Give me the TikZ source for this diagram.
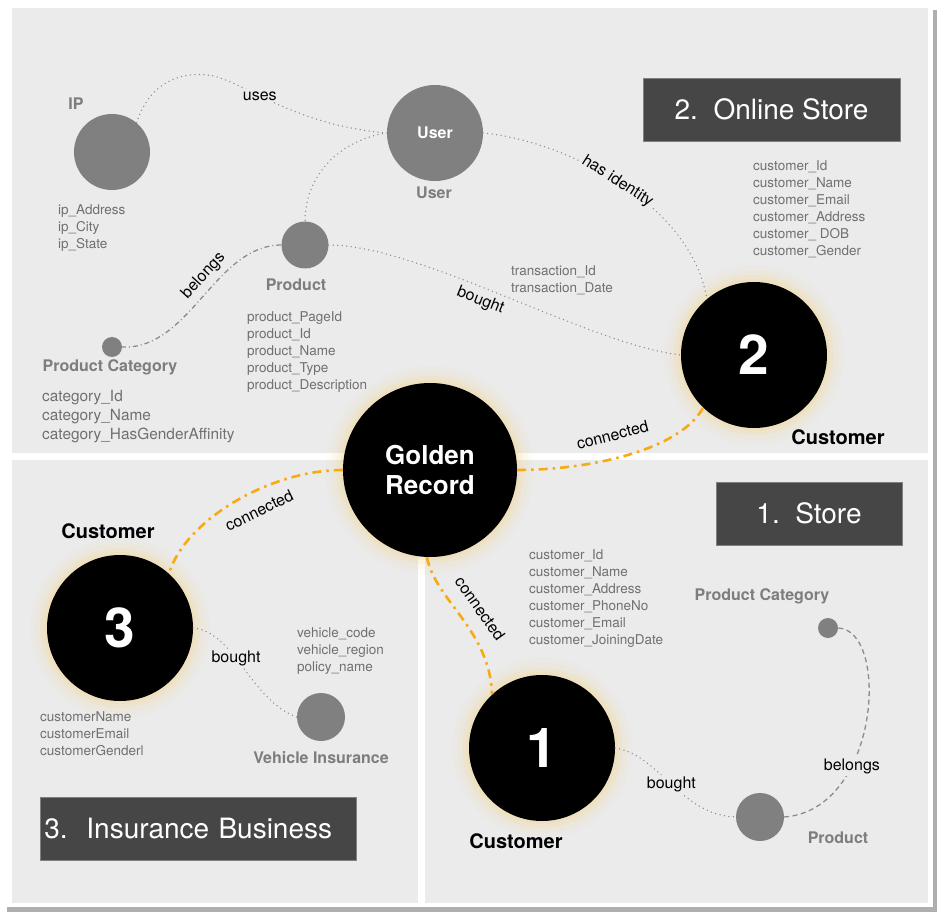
\documentclass[tikz,border=0pt]{standalone}
\usepackage{fontspec}
\setmainfont{TeX Gyre Heros}
\definecolor{panelbg}{RGB}{235,235,235}
\definecolor{shadowgray}{RGB}{175,175,175}
\definecolor{ballgray}{RGB}{128,128,128}
\definecolor{attrgray}{RGB}{112,112,112}
\definecolor{namegray}{RGB}{125,125,125}
\definecolor{dotgray}{RGB}{140,140,140}
\definecolor{boxgray}{RGB}{70,70,70}
\definecolor{linkorange}{RGB}{247,170,20}
\definecolor{glowc}{RGB}{250,210,120}
\tikzset{
  ball/.style={circle, fill=ballgray, inner sep=0pt},
  blackball/.style={circle, fill=black, inner sep=0pt, text=white, minimum size=146pt,
    font=\bfseries\fontsize{55}{55}\selectfont,
    preaction={draw=glowc, line width=34pt, draw opacity=0.05},
    preaction={draw=glowc, line width=24pt, draw opacity=0.08},
    preaction={draw=glowc, line width=14pt, draw opacity=0.12},
    preaction={draw=glowc, line width=6pt, draw opacity=0.18}},
  attr/.style={inner sep=0pt, anchor=north west, align=left, text=attrgray,
    font=\fontsize{13.5}{17}\selectfont},
  bigattr/.style={attr, font=\fontsize{15.4}{19.2}\selectfont},
  graylabel/.style={text=namegray, inner sep=0pt, font=\bfseries\fontsize{16}{16}\selectfont},
  custlabel/.style={text=black, inner sep=0pt, font=\bfseries\fontsize{20}{20}\selectfont},
  edgelbl/.style={text=black, inner sep=2pt, font=\fontsize{16}{16}\selectfont},
  onfill/.style={fill=panelbg},
  titlebox/.style={fill=boxgray, draw=gray, line width=0.8pt, text=white, minimum height=63pt,
    font=\fontsize{28}{28}\selectfont},
  dotlink/.style={draw=dotgray, line width=1.5pt, line cap=round, dash pattern=on 0pt off 4.5pt},
  dashdotlink/.style={draw=dotgray, line width=1.3pt, dash pattern=on 5pt off 3pt on 1pt off 3pt},
  dashlink/.style={draw=dotgray, line width=1.3pt, dash pattern=on 5pt off 3.5pt},
  goldlink/.style={draw=linkorange, line width=2.6pt, dash pattern=on 9pt off 5pt on 2.5pt off 5pt}
}
\begin{document}
\begin{tikzpicture}[x=1pt, y=-1pt]
    \useasboundingbox (0,0) rectangle (945,920);
    \fill[white] (0,0) rectangle (945,920);
    \fill[shadowgray] (7,10) rectangle (937,912);
    \fill[white] (3,3) rectangle (933,907);
    \fill[panelbg] (12,8) rectangle (928,453);
    \fill[panelbg] (12,460) rectangle (418,903);
    \fill[panelbg] (425,460) rectangle (928,903);

    \node[titlebox, minimum width=257pt] (online) at (771.5,109.5) {2.\ \ Online Store};
    \node[titlebox, minimum width=186pt] (store) at (809,513.5) {1.\ \ Store};
    \node[titlebox, anchor=north west, inner xsep=4pt, text width=308pt, align=left] (insur) at (40,797) {3.\ \ Insurance Business};

    \node[ball, minimum size=76pt] (ip) at (112,152) {};
    \node[ball, minimum size=96pt, text=white, font=\bfseries\fontsize{16}{16}\selectfont] (user) at (435,133) {User};
    \node[ball, minimum size=47pt] (prod) at (305,245) {};
    \node[ball, minimum size=20pt] (cat) at (112,347) {};
    \node[blackball] (cust2) at (754,355) {2};
    \node[blackball, minimum size=174pt, align=center, font=\bfseries\fontsize{26}{30}\selectfont] (golden) at (430,470) {Golden\\Record};
    \node[blackball] (cust3) at (120,628) {3};
    \node[ball, minimum size=48pt] (veh) at (321,717) {};
    \node[blackball] (cust1) at (542,748) {1};
    \node[ball, minimum size=20pt] (scat) at (828,628) {};
    \node[ball, minimum size=48pt] (sprod) at (760,817) {};

    \node[graylabel] (iplbl) at (76,104) {IP};
    \node[graylabel] (userlbl) at (434,193) {User};
    \node[graylabel] (prodlbl) at (296,285) {Product};
    \node[graylabel] (catlbl) at (110,367) {Product Category};
    \node[graylabel] (vehlbl) at (321,758) {Vehicle Insurance};
    \node[graylabel] (scatlbl) at (762,596) {Product Category};
    \node[graylabel] (sprodlbl) at (838,838) {Product};
    \node[custlabel] (cust2lbl) at (838,437) {Customer};
    \node[custlabel] (cust3lbl) at (108,531) {Customer};
    \node[custlabel] (cust1lbl) at (516,841) {Customer};

    \node[attr] (ipattr) at (58,204) {ip\_Address\\ip\_City\\ip\_State};
    \node[attr] (prodattr) at (247,311) {product\_PageId\\product\_Id\\product\_Name\\product\_Type\\product\_Description};
    \node[bigattr] (catattr) at (42,390) {category\_Id\\category\_Name\\category\_HasGenderAffinity};
    \node[attr] (cust2attr) at (753,160) {customer\_Id\\customer\_Name\\customer\_Email\\customer\_Address\\customer\_ DOB\\customer\_Gender};
    \node[attr] (transattr) at (511,265) {transaction\_Id\\transaction\_Date};
    \node[attr] (cust1attr) at (529,549) {customer\_Id\\customer\_Name\\customer\_Address\\customer\_PhoneNo\\customer\_Email\\customer\_JoiningDate};
    \node[attr] (vehattr) at (297,627) {vehicle\_code\\vehicle\_region\\policy\_name};
    \node[attr] (cust3attr) at (40,711) {customerName\\customerEmail\\customerGenderl};

    \draw[dotlink] (ip.50) .. controls (150,82) and (180,72) .. (207,75) .. controls (240,78) and (290,125) .. (user.west) node[edgelbl, onfill, pos=0.42] {uses};
    \draw[dotlink] (user.west) .. controls (340,140) and (305,175) .. (prod.north);
    \draw[dotlink] (user.east) .. controls (560,140) and (690,200) .. (cust2.130) node[edgelbl, onfill, sloped, pos=0.5] {has identity};
    \draw[dotlink] (prod.east) .. controls (420,245) and (590,345) .. (cust2.west) node[edgelbl, sloped, below=3pt, pos=0.45] {bought};
    \draw[dashdotlink] (prod.west) .. controls (215,245) and (190,350) .. (cat.east) node[edgelbl, sloped, above=3pt, pos=0.42] {belongs};

    \draw[goldlink] (golden.east) .. controls (590,470) and (680,450) .. (cust2.226) node[edgelbl, sloped, above=14pt, pos=0.45] {connected};
    \draw[goldlink] (golden.west) .. controls (270,470) and (185,520) .. (cust3.48) node[edgelbl, sloped, below=10pt, pos=0.42] {connected};
    \draw[goldlink] (golden.268) .. controls (435,600) and (490,630) .. (cust1.133) node[edgelbl, sloped, above=11pt, pos=0.52] {connected};

    \draw[dotlink] (cust3.east) .. controls (235,632) and (250,700) .. (veh.west) node[edgelbl, onfill, pos=0.42] {bought};
    \draw[dotlink] (cust1.east) .. controls (660,755) and (680,815) .. (sprod.west) node[edgelbl, onfill, pos=0.5] {bought};
    \draw[dashlink] (sprod.east) .. controls (880,810) and (890,630) .. (scat.east) node[edgelbl, onfill, pos=0.33] {belongs};
\end{tikzpicture}
\end{document}
